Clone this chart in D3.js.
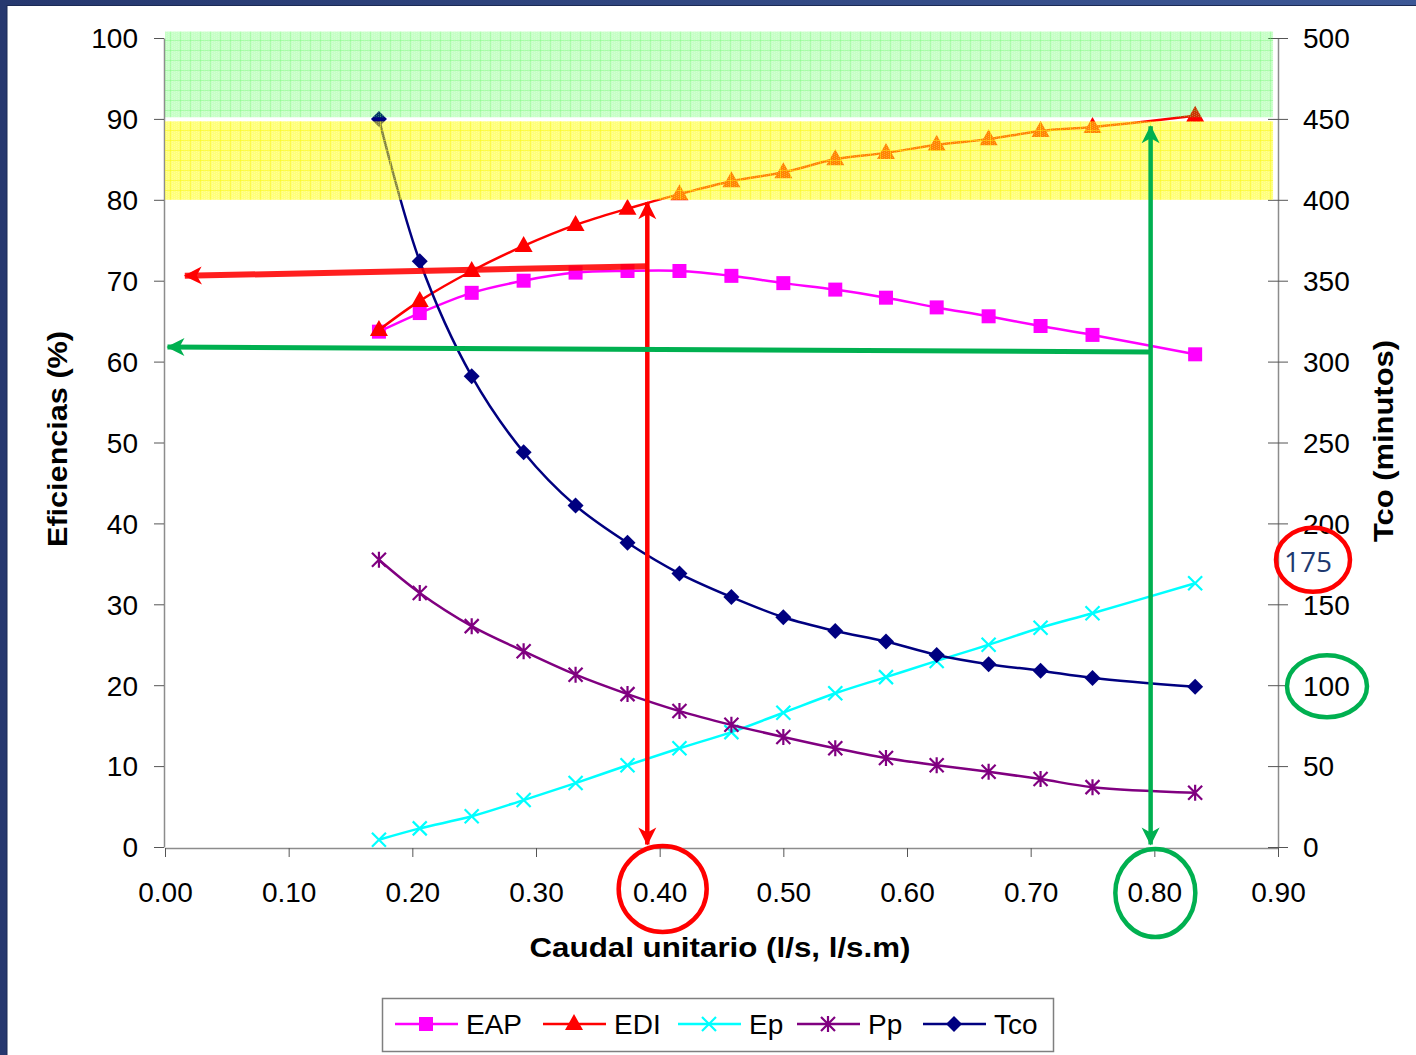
<!DOCTYPE html>
<html>
<head>
<meta charset="utf-8">
<script src="https://cdn.jsdelivr.net/npm/d3@7"></script>
<style>
  html, body { margin: 0; padding: 0; }
  body { width: 1416px; height: 1055px; overflow: hidden; background: #fff; }
  svg { display: block; }
</style>
</head>
<body>
<svg id="chart" width="1416" height="1055"></svg>
<script>
// Caudal unitario (l/s, l/s.m) for each measured point
const caudal = [0.173, 0.206, 0.248, 0.290, 0.332, 0.374, 0.416, 0.458, 0.500, 0.542, 0.583, 0.624, 0.666, 0.708, 0.750, 0.833];
// Efficiencies (%) on the left axis
const EAP = [63.7, 66.0, 68.5, 70.0, 71.0, 71.2, 71.2, 70.6, 69.7, 68.9, 67.9, 66.7, 65.6, 64.4, 63.3, 60.9];
const EDI = [63.9, 67.5, 71.2, 74.3, 76.9, 78.9, 80.7, 82.3, 83.4, 85.0, 85.8, 86.8, 87.5, 88.5, 89.0, 90.4];
const Ep  = [0.9, 2.3, 3.8, 5.8, 7.9, 10.1, 12.2, 14.2, 16.6, 19.0, 21.0, 23.0, 25.0, 27.1, 28.9, 32.6];
const Pp  = [35.5, 31.4, 27.3, 24.2, 21.3, 18.9, 16.8, 15.1, 13.6, 12.2, 11.0, 10.1, 9.3, 8.4, 7.4, 6.7];
// Cut-off time (minutos) on the right axis
const Tco = [450, 362, 291, 244, 211, 188, 169, 154.5, 142, 133.5, 127, 118.7, 113, 109, 104.5, 99];

// Tick labels
const xTicks = [0, 0.1, 0.2, 0.3, 0.4, 0.5, 0.6, 0.7, 0.8, 0.9];
const yTicks = [0, 10, 20, 30, 40, 50, 60, 70, 80, 90, 100];
const y2Ticks = [0, 50, 100, 150, 200, 250, 300, 350, 400, 450, 500];

// Efficiency bands (value ranges) and reading guides
const bandGreen = [90.2, 100.8];
const bandYellow = [80, 89.7];
const bandX = [0, 0.896];
const redGuideH = [[0.39, 71.8], [0.016, 70.6]];
const redGuideV = [[0.39, 0.3], [0.39, 79.7]];
const greenGuideH = [[0.797, 61.2], [0.002, 61.8]];
const greenGuideV = [[0.797, 0.3], [0.797, 89.1]];
const tcoMarks = [175, 100];
const xMarks = [0.4, 0.8];

const svg = d3.select("#chart");
const FONT = "'Liberation Sans', Arial, sans-serif";

// slide frame
const frameGrad = svg.append("defs").append("linearGradient").attr("id", "frameGrad")
  .attr("x1", "0").attr("x2", "1").attr("y1", "0").attr("y2", "0");
frameGrad.append("stop").attr("offset", "0").attr("stop-color", "#26386f");
frameGrad.append("stop").attr("offset", "1").attr("stop-color", "#3d5896");
svg.append("rect").attr("x", 0).attr("y", 0).attr("width", 1416).attr("height", 1055).attr("fill", "url(#frameGrad)");
svg.append("rect").attr("x", 7).attr("y", 5).attr("width", 1409).attr("height", 1050).attr("fill", "#fff");
svg.append("line").attr("x1", 7).attr("x2", 7).attr("y1", 5).attr("y2", 1055).attr("stroke", "#1b2a55").attr("stroke-width", 1);
svg.append("line").attr("x1", 7).attr("x2", 1416).attr("y1", 5.5).attr("y2", 5.5).attr("stroke", "#1b2a55").attr("stroke-width", 1);

const x = d3.scaleLinear().domain([0, 0.9]).range([165, 1278]);
const y = d3.scaleLinear().domain([0, 100]).range([847, 38]);
const y2 = d3.scaleLinear().domain([0, 500]).range([847, 38]);

const defs = svg.append("defs");

function bandPattern(id, base, baseOp, line, lineOp) {
  const p = defs.append("pattern").attr("id", id).attr("patternUnits", "userSpaceOnUse")
    .attr("width", 10).attr("height", 10);
  p.append("rect").attr("width", 10).attr("height", 10).attr("fill", base).attr("fill-opacity", baseOp);
  // fine dither
  for (let i = 0; i < 10; i += 2) {
    for (let j = (i / 2) % 2; j < 10; j += 2) {
      p.append("rect").attr("x", i).attr("y", j).attr("width", 1).attr("height", 1)
        .attr("fill", "#fff").attr("fill-opacity", 0.22);
    }
  }
  p.append("path").attr("d", "M0,0.5H10M0.5,0V10").attr("stroke", line)
    .attr("stroke-opacity", lineOp).attr("stroke-width", 1).attr("fill", "none");
}
bandPattern("gridGreen", "#00ff00", 0.22, "#30f030", 0.22);
bandPattern("gridYellow", "#ffff00", 0.52, "#f8f400", 0.45);

// arrowhead
function arrowMarker(id, color) {
  defs.append("marker").attr("id", id).attr("viewBox", "-19 -10 21 20")
    .attr("refX", 0).attr("refY", 0).attr("markerWidth", 21).attr("markerHeight", 20)
    .attr("markerUnits", "userSpaceOnUse").attr("orient", "auto-start-reverse")
    .append("path").attr("d", "M1,0 L-17,-9 L-12,0 L-17,9 Z").attr("fill", color);
}
arrowMarker("arrowRed", "#ff0000");
arrowMarker("arrowGreen", "#00b050");

// axes
const axisColor = "#8c8c8c";
const gx = svg.append("g").attr("transform", `translate(0,${y(0) + 1})`)
  .call(d3.axisBottom(x).tickValues(xTicks).tickFormat(d3.format(".2f")).tickSizeInner(9).tickSizeOuter(0));
gx.select(".domain").attr("stroke", axisColor).attr("stroke-width", 1.5);
gx.selectAll(".tick line").attr("stroke", "#555");
gx.selectAll(".tick text").attr("y", 54).attr("dy", 0)
  .attr("font-family", FONT).attr("font-size", 28).attr("fill", "#000");

const gy = svg.append("g").attr("transform", `translate(${x(0) - 1},0)`)
  .call(d3.axisLeft(y).tickValues(yTicks).tickSizeInner(10).tickSizeOuter(0).tickPadding(16));
gy.select(".domain").attr("stroke", axisColor).attr("stroke-width", 1.5);
gy.selectAll(".tick line").attr("stroke", "#555");
gy.selectAll(".tick text").attr("dy", "0.35em").attr("font-family", FONT).attr("font-size", 28).attr("fill", "#000");

const gy2 = svg.append("g").attr("transform", `translate(${x(0.9)},0)`)
  .call(d3.axisRight(y2).tickValues(y2Ticks).tickSizeInner(10).tickSizeOuter(0).tickPadding(15));
gy2.select(".domain").attr("stroke", axisColor).attr("stroke-width", 1.5);
gy2.selectAll(".tick line").attr("x1", -10).attr("stroke", "#555");
gy2.selectAll(".tick text").attr("dy", "0.35em").attr("font-family", FONT).attr("font-size", 28).attr("fill", "#000");

// axis titles
svg.append("text").attr("x", 720).attr("y", 957).attr("text-anchor", "middle")
  .attr("font-family", FONT).attr("font-weight", "bold").attr("font-size", 28)
  .attr("textLength", 381).attr("lengthAdjust", "spacingAndGlyphs")
  .text("Caudal unitario (l/s, l/s.m)");
svg.append("text").attr("transform", "translate(67,439) rotate(-90)").attr("text-anchor", "middle")
  .attr("font-family", FONT).attr("font-weight", "bold").attr("font-size", 28)
  .attr("textLength", 216).attr("lengthAdjust", "spacingAndGlyphs")
  .text("Eficiencias (%)");
svg.append("text").attr("transform", "translate(1393,441) rotate(-90)").attr("text-anchor", "middle")
  .attr("font-family", FONT).attr("font-weight", "bold").attr("font-size", 28)
  .attr("textLength", 202).attr("lengthAdjust", "spacingAndGlyphs")
  .text("Tco (minutos)");

// series
const curve = d3.curveCatmullRom.alpha(0.5);
const series = [
  { name: "EAP", values: EAP, scale: y, color: "#ff00ff", marker: "square" },
  { name: "EDI", values: EDI, scale: y, color: "#ff0000", marker: "triangle" },
  { name: "Ep", values: Ep, scale: y, color: "#00ffff", marker: "x" },
  { name: "Pp", values: Pp, scale: y, color: "#800080", marker: "star" },
  { name: "Tco", values: Tco, scale: y2, color: "#000080", marker: "diamond" }
];

function drawMarker(g, type, color) {
  if (type === "square") {
    g.append("rect").attr("x", -7).attr("y", -7).attr("width", 14).attr("height", 14).attr("fill", color);
  } else if (type === "triangle") {
    g.append("path").attr("d", "M0,-10L9,6L-9,6Z").attr("fill", color);
  } else if (type === "x") {
    g.append("path").attr("d", "M-7,-7L7,7M-7,7L7,-7").attr("stroke", color).attr("stroke-width", 2.2).attr("fill", "none");
  } else if (type === "star") {
    g.append("path").attr("d", "M-7,-7L7,7M-7,7L7,-7M0,-8V8").attr("stroke", color).attr("stroke-width", 2.2).attr("fill", "none");
  } else if (type === "diamond") {
    g.append("path").attr("d", "M0,-8L8,0L0,8L-8,0Z").attr("fill", color);
  }
}

const plot = svg.append("g");
series.forEach(s => {
  const pts = caudal.map((c, i) => [x(c), s.scale(s.values[i])]);
  plot.append("path").attr("d", d3.line().curve(curve)(pts))
    .attr("fill", "none").attr("stroke", s.color).attr("stroke-width", 2.5);
  pts.forEach(p => {
    const g = plot.append("g").attr("transform", `translate(${p[0]},${p[1]})`);
    drawMarker(g, s.marker, s.color);
  });
});

// efficiency bands, translucent over the curves
svg.append("rect").attr("x", x(bandX[0])).attr("width", x(bandX[1]) - x(bandX[0]))
  .attr("y", y(bandGreen[1])).attr("height", y(bandGreen[0]) - y(bandGreen[1]))
  .attr("fill", "url(#gridGreen)");
svg.append("rect").attr("x", x(bandX[0])).attr("width", x(bandX[1]) - x(bandX[0]))
  .attr("y", y(bandYellow[1])).attr("height", y(bandYellow[0]) - y(bandYellow[1]))
  .attr("fill", "url(#gridYellow)");

// reading guides
const guide = d3.line().x(d => x(d[0])).y(d => y(d[1]));
svg.append("path").attr("d", guide(redGuideH)).attr("stroke", "#ff0000").attr("stroke-width", 6)
  .attr("stroke-opacity", 0.88).attr("fill", "none").attr("marker-end", "url(#arrowRed)");
svg.append("path").attr("d", guide(redGuideV)).attr("stroke", "#ff0000").attr("stroke-width", 4.5)
  .attr("fill", "none").attr("marker-start", "url(#arrowRed)").attr("marker-end", "url(#arrowRed)");
svg.append("path").attr("d", guide(greenGuideH)).attr("stroke", "#00b050").attr("stroke-width", 5)
  .attr("fill", "none").attr("marker-end", "url(#arrowGreen)");
svg.append("path").attr("d", guide(greenGuideV)).attr("stroke", "#00b050").attr("stroke-width", 4.5)
  .attr("fill", "none").attr("marker-start", "url(#arrowGreen)").attr("marker-end", "url(#arrowGreen)");

// highlighted readings
svg.append("text").attr("x", x(0.9) + 30).attr("y", y2(tcoMarks[0]) + 8).attr("text-anchor", "middle")
  .attr("font-family", "'Open Sans', 'Noto Sans', sans-serif").attr("font-size", 28).attr("fill", "#1f3a70")
  .text(String(tcoMarks[0]));
svg.append("ellipse").attr("cx", x(0.9) + 35).attr("cy", y2(tcoMarks[0]) - 4).attr("rx", 37).attr("ry", 32)
  .attr("fill", "none").attr("stroke", "#ff0000").attr("stroke-width", 4.5);
svg.append("ellipse").attr("cx", x(0.9) + 49).attr("cy", y2(tcoMarks[1]) + 1).attr("rx", 40).attr("ry", 31)
  .attr("fill", "none").attr("stroke", "#00b050").attr("stroke-width", 4.5);
svg.append("ellipse").attr("cx", x(xMarks[0]) + 3).attr("cy", 889).attr("rx", 44).attr("ry", 43)
  .attr("fill", "none").attr("stroke", "#ff0000").attr("stroke-width", 4.5);
svg.append("ellipse").attr("cx", x(xMarks[1]) + 1).attr("cy", 893).attr("rx", 40).attr("ry", 44)
  .attr("fill", "none").attr("stroke", "#00b050").attr("stroke-width", 4.5);

// legend
const legend = svg.append("g");
legend.append("rect").attr("x", 382.5).attr("y", 998.5).attr("width", 671).attr("height", 53)
  .attr("fill", "#fff").attr("stroke", "#7f7f7f").attr("stroke-width", 1.5);
const legendX = [395, 543, 678, 797, 923];
series.forEach((s, i) => {
  const lx = legendX[i];
  const g = legend.append("g").attr("transform", `translate(${lx},1024)`);
  g.append("line").attr("x1", 0).attr("x2", 63).attr("stroke", s.color).attr("stroke-width", 2.5);
  const m = g.append("g").attr("transform", "translate(31,0)");
  drawMarker(m, s.marker, s.color);
  g.append("text").attr("x", 71).attr("y", 10).attr("font-family", FONT).attr("font-size", 28)
    .attr("fill", "#000").text(s.name);
});
</script>
</body>
</html>
